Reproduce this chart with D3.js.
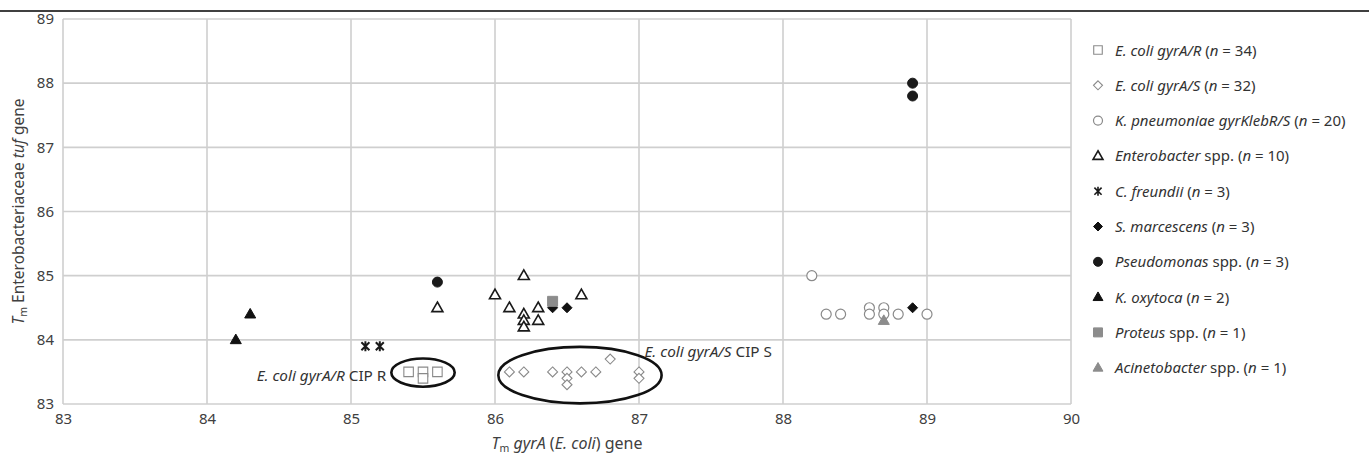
<!DOCTYPE html>
<html>
<head>
<meta charset="utf-8">
<script src="https://cdn.jsdelivr.net/npm/d3@7"></script>
<style>
  body { margin: 0; background: #fff; }
  svg { display: block; font-family: "Noto Sans", sans-serif; }
</style>
</head>
<body>
<div id="chart"></div>
<script>
// Series values, [Tm gyrA, Tm tuf]
var ecoliR = [[85.4, 83.5], [85.5, 83.5], [85.6, 83.5], [85.5, 83.4]];
var ecoliS = [[86.1, 83.5], [86.2, 83.5], [86.4, 83.5], [86.5, 83.5], [86.5, 83.4], [86.5, 83.3],
              [86.6, 83.5], [86.7, 83.5], [86.8, 83.7], [87.0, 83.5], [87.0, 83.4]];
var kpneu = [[88.2, 85.0], [88.3, 84.4], [88.4, 84.4], [88.6, 84.5], [88.6, 84.4], [88.7, 84.5],
             [88.7, 84.4], [88.8, 84.4], [89.0, 84.4]];
var entero = [[85.6, 84.5], [86.0, 84.7], [86.1, 84.5], [86.2, 85.0], [86.2, 84.4], [86.2, 84.3],
              [86.2, 84.2], [86.3, 84.5], [86.3, 84.3], [86.6, 84.7]];
var cfreundii = [[85.1, 83.9], [85.2, 83.9]];
var smarc = [[86.4, 84.5], [86.5, 84.5], [88.9, 84.5]];
var pseudo = [[85.6, 84.9], [88.9, 88.0], [88.9, 87.8]];
var koxy = [[84.2, 84.0], [84.3, 84.4]];
var proteus = [[86.4, 84.6]];
var acineto = [[88.7, 84.3]];

// Legend labels: [text, italic]
var labels = [
  [["E. coli gyrA/R", 1], [" (", 0], ["n", 1], [" = 34)", 0]],
  [["E. coli gyrA/S", 1], [" (", 0], ["n", 1], [" = 32)", 0]],
  [["K. pneumoniae gyrKlebR/S", 1], [" (", 0], ["n", 1], [" = 20)", 0]],
  [["Enterobacter", 1], [" spp. (", 0], ["n", 1], [" = 10)", 0]],
  [["C. freundii", 1], [" (", 0], ["n", 1], [" = 3)", 0]],
  [["S. marcescens", 1], [" (", 0], ["n", 1], [" = 3)", 0]],
  [["Pseudomonas", 1], [" spp. (", 0], ["n", 1], [" = 3)", 0]],
  [["K. oxytoca", 1], [" (", 0], ["n", 1], [" = 2)", 0]],
  [["Proteus", 1], [" spp. (", 0], ["n", 1], [" = 1)", 0]],
  [["Acinetobacter", 1], [" spp. (", 0], ["n", 1], [" = 1)", 0]]
];

var xTicks = [83, 84, 85, 86, 87, 88, 89, 90];
var yTicks = [83, 84, 85, 86, 87, 88, 89];

// Groups circled on the chart: centre and radii in data units
var groups = [
  { cx: 85.5, cy: 83.49, rx: 0.22, ry: 0.22, text: [["E. coli gyrA/R", 1], [" CIP R", 0]], side: "left" },
  { cx: 86.59, cy: 83.45, rx: 0.567, ry: 0.44, text: [["E. coli gyrA/S", 1], [" CIP S", 0]], side: "right" }
];

var series = [
  { data: ecoliR,    shape: "square",   fill: "#fff",    stroke: "#8a8a8a", sw: 1.1, size: 9.5 },
  { data: ecoliS,    shape: "diamond",  fill: "#fff",    stroke: "#8a8a8a", sw: 1.1, size: 10 },
  { data: kpneu,     shape: "circle",   fill: "#fff",    stroke: "#8a8a8a", sw: 1.2, size: 10 },
  { data: entero,    shape: "triangle", fill: "#fff",    stroke: "#1a1a1a", sw: 1.6, size: 11 },
  { data: cfreundii, shape: "star",     fill: "none",    stroke: "#1a1a1a", sw: 2,   size: 10 },
  { data: smarc,     shape: "diamond",  fill: "#111",    stroke: "#111",    sw: 1,   size: 10 },
  { data: pseudo,    shape: "circle",   fill: "#1a1a1a", stroke: "#1a1a1a", sw: 1,   size: 10 },
  { data: koxy,      shape: "triangle", fill: "#111",    stroke: "#111",    sw: 1,   size: 11 },
  { data: proteus,   shape: "square",   fill: "#8c8c8c", stroke: "#8c8c8c", sw: 1,   size: 10 },
  { data: acineto,   shape: "triangle", fill: "#8c8c8c", stroke: "#8c8c8c", sw: 1,   size: 11 }
];

var width = 1369, height = 458;
var margin = { top: 19, left: 63, right: 298, bottom: 54 };

var x = d3.scaleLinear().domain([83, 90]).range([margin.left, width - margin.right]);
var y = d3.scaleLinear().domain([83, 89]).range([height - margin.bottom, margin.top]);

var svg = d3.select("#chart").append("svg")
  .attr("width", width)
  .attr("height", height);

// top rule
svg.append("line")
  .attr("x1", 0).attr("x2", width)
  .attr("y1", 11).attr("y2", 11)
  .attr("stroke", "#000").attr("stroke-width", 1.5);

// grid
svg.append("g").selectAll("line")
  .data(xTicks).enter().append("line")
  .attr("x1", d => x(d)).attr("x2", d => x(d))
  .attr("y1", y(89)).attr("y2", y(83))
  .attr("stroke", "#cfcfcf").attr("stroke-width", 1.6);

svg.append("g").selectAll("line")
  .data(yTicks).enter().append("line")
  .attr("x1", x(83)).attr("x2", x(90))
  .attr("y1", d => y(d)).attr("y2", d => y(d))
  .attr("stroke", "#cfcfcf").attr("stroke-width", 1.6);

// axes (labels only, grid drawn above)
var xAxis = d3.axisBottom(x).tickValues(xTicks).tickSize(0).tickPadding(9).tickFormat(d3.format("d"));
var yAxis = d3.axisLeft(y).tickValues(yTicks).tickSize(0).tickPadding(9).tickFormat(d3.format("d"));

svg.append("g")
  .attr("transform", "translate(0," + y(83) + ")")
  .call(xAxis)
  .call(g => g.select(".domain").remove())
  .selectAll("text").attr("font-size", 15).attr("fill", "#404040")
  .attr("font-family", "Noto Sans");

svg.append("g")
  .attr("transform", "translate(" + x(83) + ",0)")
  .call(yAxis)
  .call(g => g.select(".domain").remove())
  .selectAll("text").attr("font-size", 15).attr("fill", "#404040")
  .attr("font-family", "Noto Sans");

// axis titles
var xt = svg.append("text")
  .attr("x", (x(83) + x(90)) / 2).attr("y", 449)
  .attr("text-anchor", "middle")
  .attr("font-size", 16).attr("fill", "#404040");
xt.append("tspan").attr("font-style", "italic").text("T");
xt.append("tspan").attr("font-size", 10.5).attr("dy", 3).text("m");
xt.append("tspan").attr("dy", -3).text(" ");
xt.append("tspan").attr("font-style", "italic").text("gyrA");
xt.append("tspan").text(" (");
xt.append("tspan").attr("font-style", "italic").text("E. coli");
xt.append("tspan").text(") gene");

var yt = svg.append("text")
  .attr("transform", "translate(24," + ((y(83) + y(89)) / 2) + ") rotate(-90)")
  .attr("text-anchor", "middle")
  .attr("font-size", 15.5).attr("fill", "#404040");
yt.append("tspan").attr("font-style", "italic").text("T");
yt.append("tspan").attr("font-size", 10.5).attr("dy", 3).text("m");
yt.append("tspan").attr("dy", -3).text(" Enterobacteriaceae ");
yt.append("tspan").attr("font-style", "italic").text("tuf");
yt.append("tspan").text(" gene");

// marker paths centred on 0,0
function markerPath(shape, s) {
  var h = s / 2;
  if (shape === "square") return "M" + (-h) + "," + (-h) + "h" + s + "v" + s + "h" + (-s) + "Z";
  if (shape === "diamond") return "M0," + (-h) + "L" + h + ",0L0," + h + "L" + (-h) + ",0Z";
  if (shape === "circle") return d3.symbol(d3.symbolCircle, Math.PI * h * h)();
  if (shape === "triangle") {
    var th = s * 0.87;
    return "M0," + (-th * 0.6) + "L" + h + "," + (th * 0.4) + "L" + (-h) + "," + (th * 0.4) + "Z";
  }
  if (shape === "star") {
    var k = h * 0.8;
    return "M" + (-k) + "," + (-k) + "L" + k + "," + k + "M" + k + "," + (-k) + "L" + (-k) + "," + k +
      "M0," + (-h) + "V" + h;
  }
}

// circled groups
groups.forEach(function (g) {
  var px = x(g.cx), py = y(g.cy);
  var rx = x(g.cx + g.rx) - px, ry = py - y(g.cy + g.ry);
  svg.append("ellipse")
    .attr("cx", px).attr("cy", py).attr("rx", rx).attr("ry", ry)
    .attr("fill", "none").attr("stroke", "#111").attr("stroke-width", 2.6);
  var t = svg.append("text")
    .attr("font-size", 15.3).attr("fill", "#333");
  if (g.side === "left") {
    t.attr("x", px - rx - 5).attr("y", py + 8).attr("text-anchor", "end");
  } else {
    t.attr("x", px + rx * 0.79).attr("y", py - ry * 0.63).attr("text-anchor", "start");
  }
  g.text.forEach(function (p) {
    t.append("tspan").attr("font-style", p[1] ? "italic" : "normal").text(p[0]);
  });
});

// points
series.forEach(function (s) {
  svg.append("g").selectAll("path")
    .data(s.data).enter().append("path")
    .attr("transform", d => "translate(" + x(d[0]) + "," + y(d[1]) + ")")
    .attr("d", markerPath(s.shape, s.size))
    .attr("fill", s.fill)
    .attr("stroke", s.stroke)
    .attr("stroke-width", s.sw);
});

// legend
var legend = svg.append("g").selectAll("g")
  .data(series).enter().append("g")
  .attr("transform", (d, i) => "translate(1098," + (50 + i * 35.3) + ")");

legend.append("path")
  .attr("d", d => markerPath(d.shape, d.size * 0.9))
  .attr("fill", d => d.fill)
  .attr("stroke", d => d.stroke)
  .attr("stroke-width", d => Math.min(d.sw, 1.6));

legend.append("text")
  .attr("x", 17).attr("y", 5.5)
  .attr("font-size", 15).attr("fill", "#333")
  .each(function (d, i) {
    var t = d3.select(this);
    labels[i].forEach(function (p) {
      t.append("tspan").attr("font-style", p[1] ? "italic" : "normal").text(p[0]);
    });
  });
</script>
</body>
</html>
